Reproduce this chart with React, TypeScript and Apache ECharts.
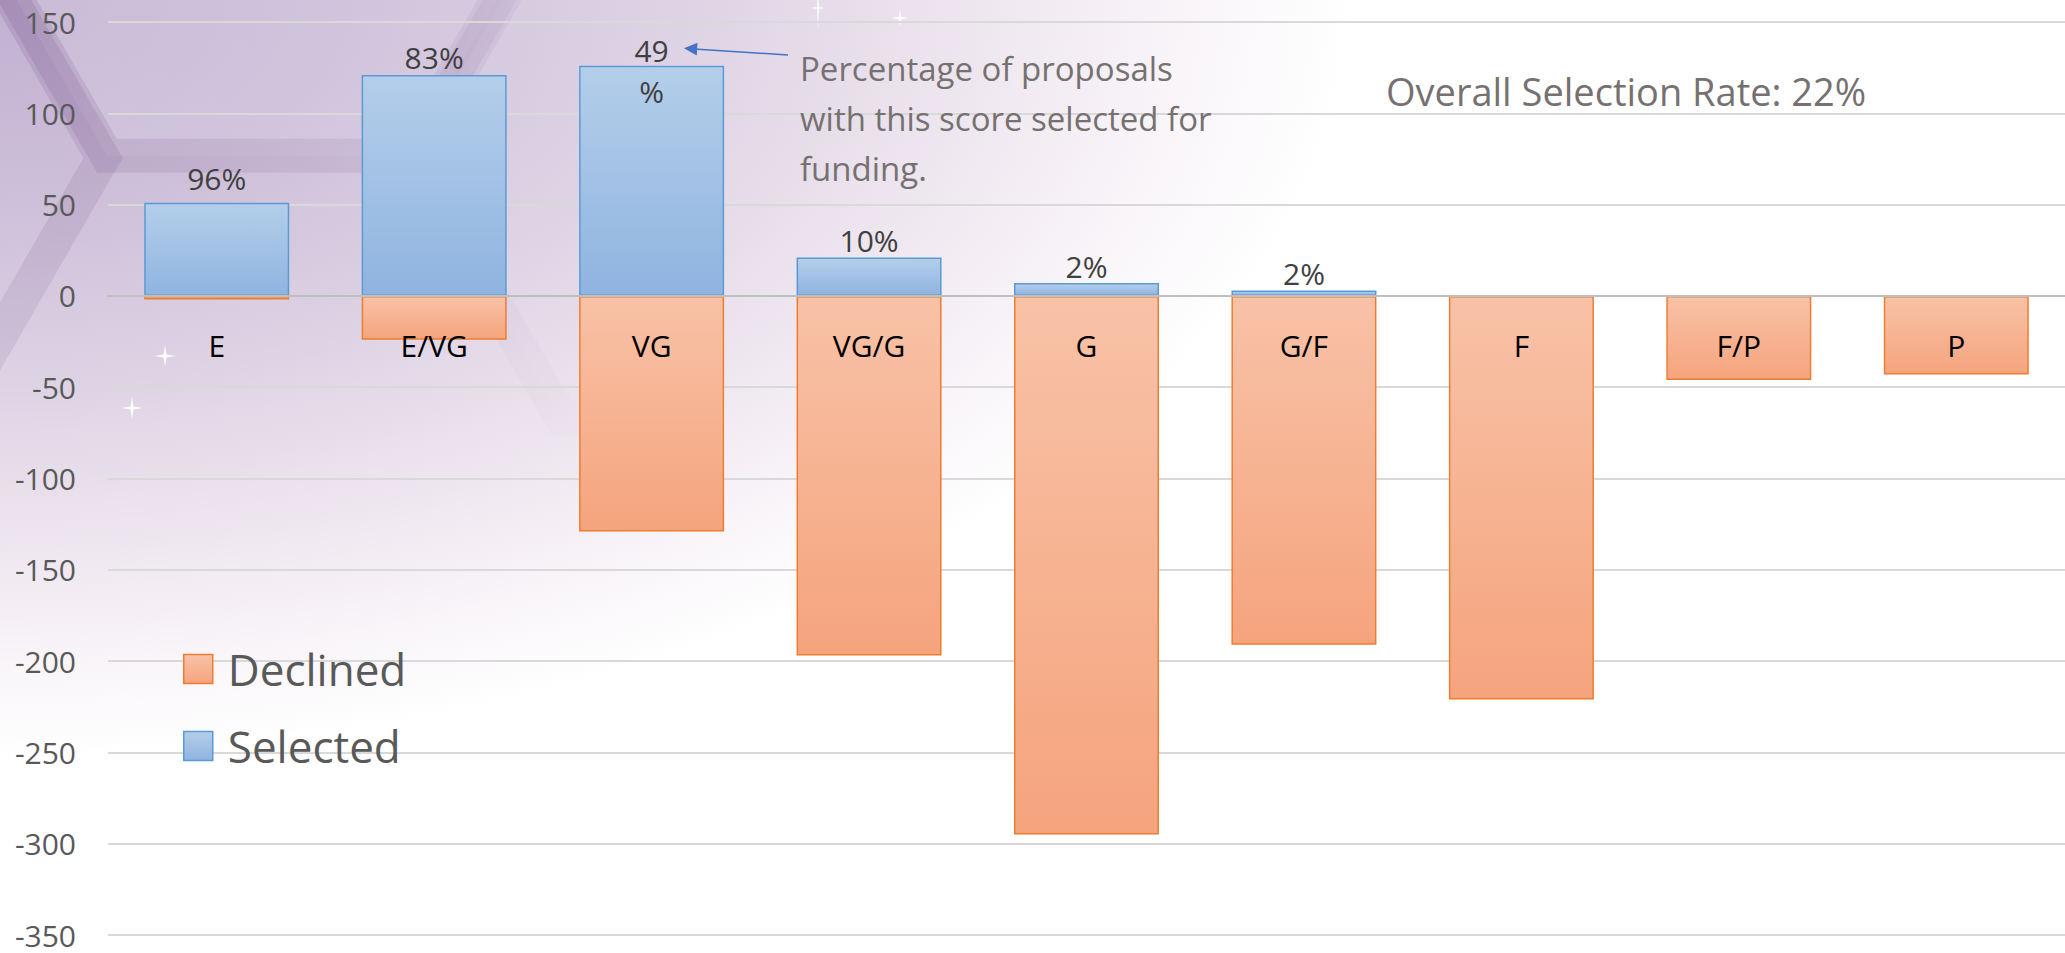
import React, { useEffect, useRef } from 'react';
import * as echarts from 'echarts';

// ---------- data ----------
const categories = ['E', 'E/VG', 'VG', 'VG/G', 'G', 'G/F', 'F', 'F/P', 'P'];
const selectedValues = [51, 121, 126, 21, 7, 3, 0, 0, 0];
const declinedValues = [-2, -24, -129, -197, -295, -191, -221, -46, -43];
const selectedPctLabels = ['96%', '83%', '49%', '10%', '2%', '2%', '', '', ''];
const wrappedLabelIndex = 2; // "49%" wraps onto two lines in the original
const yMin = -350;
const yMax = 150;
const yInterval = 50;
const seriesNames = ['Declined', 'Selected'];
const annotationLines = ['Percentage of proposals', 'with this score selected for', 'funding.'];
const overallText = 'Overall Selection Rate: 22%';

const FONT = "'Open Sans', 'Noto Sans', sans-serif";
const CHART_W = 2065;
const CHART_H = 953;
const GRID = { left: 108, right: 0, top: 22, bottom: 18 };

function hexPoints(cx: number, cy: number, r: number): number[][] {
  const pts: number[][] = [];
  for (let k = 0; k < 6; k++) {
    const a = (Math.PI / 3) * k;
    pts.push([cx + r * Math.cos(a), cy + r * Math.sin(a)]);
  }
  return pts;
}

function star(cx: number, cy: number, r: number, rv?: number): number[][] {
  const v = rv ?? r;
  const t = r * 0.14;
  return [
    [cx, cy - v], [cx + t, cy - t], [cx + r, cy], [cx + t, cy + t],
    [cx, cy + v], [cx - t, cy + t], [cx - r, cy], [cx - t, cy - t],
  ];
}

export default function App() {
  const ref = useRef<HTMLDivElement>(null);

  useEffect(() => {
    if (!ref.current) return;
    const chart = echarts.init(ref.current, undefined, { renderer: 'svg' });

    const selGrad = new echarts.graphic.LinearGradient(0, 0, 0, 1, [
      { offset: 0, color: '#b4ceea' },
      { offset: 1, color: '#8fb4e0' },
    ]);
    const decGrad = new echarts.graphic.LinearGradient(0, 0, 0, 1, [
      { offset: 0, color: '#f8c2a7' },
      { offset: 1, color: '#f5a47d' },
    ]);

    const bgGrad = new echarts.graphic.RadialGradient(0, 0, 1, [
      { offset: 0, color: '#c2b0d1' },
      { offset: 0.25, color: '#cdbed9' },
      { offset: 0.5, color: '#ddd2e4' },
      { offset: 0.72, color: '#eee6ef' },
      { offset: 0.88, color: '#f9f5f9' },
      { offset: 1, color: '#ffffff' },
    ]);

    // honeycomb decoration, fading away from the top-left corner
    const hexStroke = new echarts.graphic.RadialGradient(0, 0, 820, [
      { offset: 0, color: 'rgba(105,70,125,0.17)' },
      { offset: 0.45, color: 'rgba(105,70,125,0.11)' },
      { offset: 0.75, color: 'rgba(105,70,125,0.03)' },
      { offset: 1, color: 'rgba(105,70,125,0)' },
    ], true);
    const hexFill = new echarts.graphic.RadialGradient(0, 0, 800, [
      { offset: 0, color: 'rgba(255,255,255,0.14)' },
      { offset: 0.7, color: 'rgba(255,255,255,0.04)' },
      { offset: 1, color: 'rgba(255,255,255,0)' },
    ], true);
    const hexDefs = [
      { c: [257, -104], light: true },
      { c: [-197, 158], light: false },
      { c: [711, 158], light: true },
      { c: [711, -366], light: false },
    ];
    const hexes = hexDefs.map((h) => ({
      type: 'polygon',
      silent: true,
      z: -9,
      shape: { points: hexPoints(h.c[0], h.c[1], 300) },
      style: {
        fill: h.light ? hexFill : 'rgba(255,255,255,0)',
        stroke: hexStroke,
        lineWidth: 34,
      },
    }));

    const stars = [
      star(165, 356, 11), star(132, 408, 11), star(818, 8, 7, 22), star(900, 18, 9),
    ].map((pts) => ({
      type: 'polygon', silent: true, z: -8,
      shape: { points: pts },
      style: { fill: 'rgba(255,255,255,0.9)' },
    }));

    // ECharts keeps onZero axis labels at the grid edge, so place the category
    // axis itself at the value 0 through its offset.
    const gridH = CHART_H - GRID.top - GRID.bottom;
    const zeroOffset = -((0 - yMin) / (yMax - yMin)) * gridH;

    const option: any = {
      animation: false,
      backgroundColor: '#ffffff',
      grid: {
        ...GRID,
        containLabel: false, outerBoundsMode: 'none',
      },
      legend: {
        orient: 'vertical',
        left: 178,
        top: 640,
        icon: 'rect',
        itemWidth: 29,
        itemHeight: 29,
        itemGap: 29,
        selectedMode: false,
        data: [
          { name: seriesNames[0], itemStyle: { color: decGrad, borderColor: '#ed7d31', borderWidth: 1.5 } },
          { name: seriesNames[1], itemStyle: { color: selGrad, borderColor: '#5b9bd5', borderWidth: 1.5 } },
        ],
        textStyle: { fontSize: 44, color: '#595959', fontFamily: FONT, lineHeight: 48, padding: [0, 0, 0, 10] },
      },
      xAxis: {
        type: 'category',
        data: categories,
        position: 'bottom',
        offset: zeroOffset,
        z: 5,
        axisLine: { onZero: false, lineStyle: { color: '#bfbfbf', width: 2 } },
        axisTick: { show: false },
        axisLabel: { fontSize: 30, color: '#000000', fontFamily: FONT, margin: 35, lineHeight: 30 },
        splitLine: { show: false },
      },
      yAxis: {
        type: 'value',
        min: yMin,
        max: yMax,
        interval: yInterval,
        axisLine: { show: false },
        axisTick: { show: false },
        axisLabel: { fontSize: 30, color: '#595959', fontFamily: FONT, margin: 32 },
        splitLine: { lineStyle: { color: '#d9d9d9', width: 2 } },
      },
      series: [
        {
          name: seriesNames[0],
          type: 'bar',
          stack: 'total',
          barWidth: 145,
          data: declinedValues,
          itemStyle: { color: decGrad, borderColor: '#ed7d31', borderWidth: 1.5 },
        },
        {
          name: seriesNames[1],
          type: 'bar',
          stack: 'total',
          barWidth: 145,
          data: selectedValues.map((v, i) => {
            if (v === 0) return null; // no selected proposals: no bar
            if (i === wrappedLabelIndex) return { value: v, label: { lineHeight: 41, offset: [0, 48] } };
            if (i === 0) return { value: v, label: { offset: [0, -7] } };
            return v;
          }),
          itemStyle: { color: selGrad, borderColor: '#5b9bd5', borderWidth: 1.5 },
          label: {
            show: true,
            position: 'top',
            distance: 2,
            fontSize: 30,
            lineHeight: 30,
            fontFamily: FONT,
            color: '#404040',
            formatter: (p: any) => {
              const t = selectedPctLabels[p.dataIndex];
              return p.dataIndex === wrappedLabelIndex ? t.replace('%', '\n%') : t;
            },
          },
        },
      ],
      graphic: [
        {
          type: 'group', x: 0, y: 0, scaleY: 0.56, z: -10, silent: true,
          children: [
            { type: 'rect', z: -10, shape: { x: 0, y: 0, width: 1350, height: 1350 }, style: { fill: bgGrad } },
          ],
        },
        ...hexes,
        ...stars,
        {
          type: 'line', z: 50, silent: true,
          shape: { x1: 788, y1: 55, x2: 694, y2: 49 },
          style: { stroke: '#4472c4', lineWidth: 1.5 },
        },
        {
          type: 'polygon', z: 50, silent: true,
          shape: { points: [[684, 48.3], [697.5, 42.8], [696.8, 55.5]] },
          style: { fill: '#4472c4' },
        },
        {
          type: 'text', z: 50, x: 800, y: 43, silent: true,
          style: {
            text: annotationLines.join('\n'),
            fontSize: 33, fontFamily: FONT, fill: '#767171',
            lineHeight: 50, verticalAlign: 'top', align: 'left',
          },
        },
        {
          type: 'text', z: 50, x: 1386, y: 91, silent: true,
          style: {
            text: overallText,
            fontSize: 38, fontFamily: FONT, fill: '#767171',
            verticalAlign: 'middle', align: 'left',
          },
        },
      ],
    };

    chart.setOption(option);
    return () => chart.dispose();
  }, []);

  return (
    <div
      ref={ref}
      style={{ position: 'absolute', left: 0, top: 0, width: CHART_W, height: CHART_H }}
    />
  );
}
